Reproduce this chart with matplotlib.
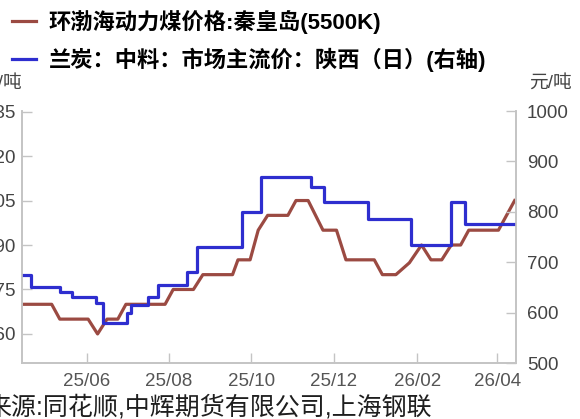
import numpy as np
import pandas as pd
import matplotlib
matplotlib.use("Agg")
import matplotlib.pyplot as plt
import matplotlib.dates as mdates

plt.rcParams['font.family'] = ['Liberation Sans', 'Noto Sans CJK SC', 'DejaVu Sans']

# ---------------- 数据 ----------------
coal_name = "环渤海动力煤价格:秦皇岛(5500K)"
coal_dates = ["2025-04-14", "2025-05-06", "2025-05-12", "2025-06-02", "2025-06-09",
              "2025-06-16", "2025-06-24", "2025-06-30", "2025-07-29", "2025-08-04",
              "2025-08-19", "2025-08-26", "2025-09-17", "2025-09-21", "2025-09-30",
              "2025-10-06", "2025-10-13", "2025-10-28", "2025-11-03", "2025-11-12",
              "2025-11-23", "2025-12-03", "2025-12-10", "2025-12-31", "2026-01-06",
              "2026-01-16", "2026-01-26", "2026-02-04", "2026-02-11", "2026-02-19",
              "2026-02-26", "2026-03-05", "2026-03-11", "2026-04-02", "2026-04-14"]
coal_vals = [670, 670, 665, 665, 660,
             665, 665, 670, 670, 675,
             675, 680, 680, 685, 685,
             695, 700, 700, 705, 705,
             695, 695, 685, 685, 680,
             680, 684, 690, 685, 685,
             690, 690, 695, 695, 705]

semi_name = "兰炭：中料：市场主流价：陕西（日）(右轴)"
semi_dates = ["2025-04-14", "2025-04-21", "2025-05-12", "2025-05-21", "2025-06-08",
              "2025-06-13", "2025-07-01", "2025-07-04", "2025-07-16", "2025-07-24",
              "2025-08-14", "2025-08-22", "2025-09-24", "2025-10-08", "2025-11-14",
              "2025-11-24", "2025-12-26", "2026-01-27", "2026-02-26", "2026-03-08",
              "2026-04-14"]
semi_vals = [675, 650, 640, 630, 620,
             580, 600, 615, 630, 655,
             680, 730, 800, 870, 850,
             820, 785, 735, 820, 775,
             775]

left_ticks = [660, 675, 690, 705, 720, 735]
right_ticks = [500, 600, 700, 800, 900, 1000]
source_text = "来源:同花顺,中辉期货有限公司,上海钢联"
# --------------------------------------

BROWN = "#9b4a42"
BLUE = "#2e2ecf"
GRID = "#c4c4c4"
TXT = "#444444"

fig = plt.figure(figsize=(5.8, 4.19), dpi=100)
ax = fig.add_axes([22 / 580, 56 / 419, 494 / 580, 252 / 419])
ax2 = ax.twinx()

l1, = ax.plot(pd.to_datetime(coal_dates), coal_vals, color=BROWN, lw=2.3,
              solid_joinstyle="round", label=coal_name)
l2, = ax2.plot(pd.to_datetime(semi_dates), semi_vals, color=BLUE, lw=2.3,
               drawstyle="steps-post", label=semi_name)

ax.set_xlim(pd.Timestamp("2025-04-14"), pd.Timestamp("2026-04-15"))
ax.set_ylim(650.2, 735.2)
ax2.set_ylim(500, 1000)
ax.set_yticks(left_ticks)
ax2.set_yticks(right_ticks)

ax.xaxis.set_major_locator(mdates.MonthLocator(bymonth=[2, 4, 6, 8, 10, 12]))
ax.xaxis.set_major_formatter(mdates.DateFormatter("%y/%m"))

for a in (ax, ax2):
    a.spines["top"].set_visible(False)
    for s in ("left", "right", "bottom"):
        a.spines[s].set_color(GRID)
        a.spines[s].set_linewidth(1.2)
ax.tick_params(axis="y", direction="in", length=7, width=1, color=GRID,
               labelsize=13.5, labelcolor=TXT, pad=5)
ax2.tick_params(axis="y", direction="in", length=7, width=1, color=GRID,
                labelsize=13.5, labelcolor=TXT, pad=8)
ax.tick_params(axis="x", direction="in", length=7, width=1, color=GRID,
               labelsize=13.5, labelcolor="#555555", pad=7)

fig.text(22 / 580, 1 - 83 / 419, "元/吨", ha="right", va="center", fontsize=13.5, color=TXT)
fig.text(529 / 580, 1 - 83 / 419, "元/吨", ha="left", va="center", fontsize=13.5, color=TXT)

fig.legend(handles=[l1, l2], loc="upper left", bbox_to_anchor=(0.003, 1.0),
           frameon=False, handlelength=1.1, handletextpad=0.55, labelspacing=0.6,
           borderaxespad=0.05, prop={"size": 16, "weight": "bold"})

fig.text(-14 / 580, 1 - 407 / 419, source_text, ha="left", va="center",
         fontsize=18, color="#1e1e1e")

fig.savefig("out.png", dpi=100)
